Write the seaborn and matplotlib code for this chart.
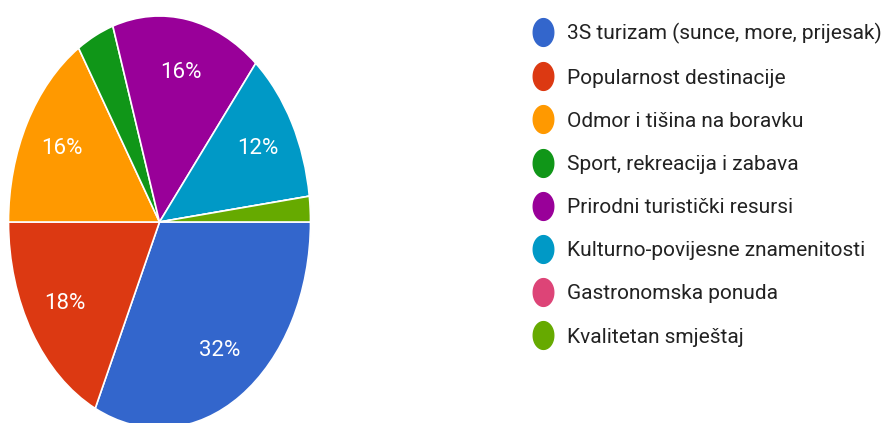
import numpy as np
import seaborn as sns
import matplotlib.pyplot as plt
from matplotlib.lines import Line2D
from matplotlib.path import Path

sns.set_theme(style="white")
plt.rcParams['font.family'] = ['Roboto', 'DejaVu Sans']

# responses per category
categories = ["3S turizam (sunce, more, prijesak)",
              "Popularnost destinacije",
              "Odmor i tišina na boravku",
              "Sport, rekreacija i zabava",
              "Prirodni turistički resursi",
              "Kulturno-povijesne znamenitosti",
              "Gastronomska ponuda",
              "Kvalitetan smještaj"]
counts = [16, 9, 8, 2, 8, 6, 0, 1]
colors = ["#3366CC", "#DC3912", "#FF9900", "#109618",
          "#990099", "#0099C6", "#DD4477", "#66AA00"]

fig = plt.figure(figsize=(8.82, 4.23), dpi=100)
# pie area is stretched vertically like the screenshot
ax = fig.add_axes([8.5 / 882, (201 - 206) / 423, 302 / 882, 412 / 423])

def pct_label(p):
    return f"{p:.0f}%" if p >= 5 else ""

wedges, texts, autotexts = ax.pie(
    counts, colors=colors, startangle=0, counterclock=False,
    autopct=pct_label, pctdistance=0.74,
    wedgeprops=dict(edgecolor="white", linewidth=1.2),
    textprops=dict(color="white", fontsize=16))
ax.set_aspect("auto")
ax.set_xlim(-1, 1)
ax.set_ylim(-1, 1)

# ellipse-shaped legend marker
t = np.linspace(0, 2 * np.pi, 60)
ell = Path(np.column_stack([0.74 * np.cos(t), np.sin(t)]), closed=True)
handles = [Line2D([], [], linestyle="none", marker=ell, markersize=20,
                  markerfacecolor=c, markeredgecolor=c) for c in colors]
leg = fig.legend(handles, categories, loc="upper left",
                 bbox_to_anchor=(524 / 882, 1 - 15 / 423),
                 frameon=False, fontsize=15, labelspacing=1.16,
                 handlelength=1.0, handletextpad=0.66, borderaxespad=0)
for txt in leg.get_texts():
    txt.set_color("#222222")

fig.savefig("out.png", dpi=100)
